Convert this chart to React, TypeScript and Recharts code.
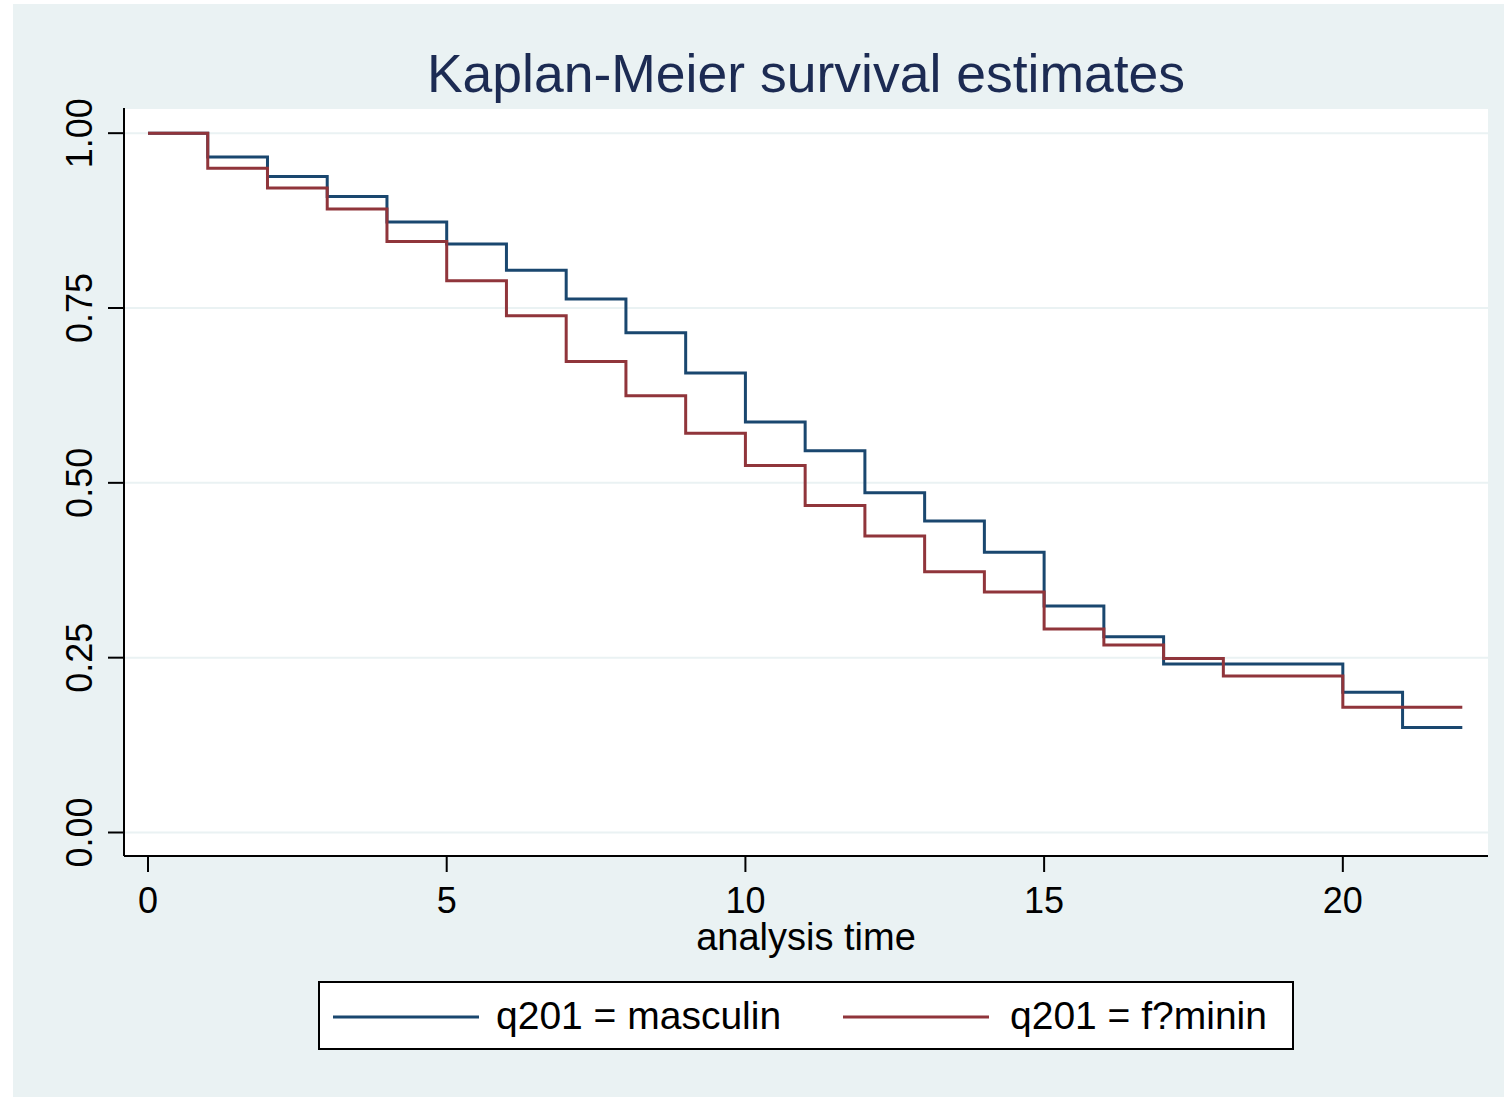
import { CartesianGrid, Legend, Line, LineChart, XAxis, YAxis } from "recharts";

const times = [0, 1, 2, 3, 4, 5, 6, 7, 8, 9, 10, 11, 12, 13, 14, 15, 16, 17, 18, 19, 20, 21, 22];
const masculin = [
  1, 0.966, 0.938, 0.9096, 0.873, 0.8415, 0.804, 0.763, 0.7146, 0.657, 0.587, 0.546,
  0.486, 0.4456, 0.4008, 0.324, 0.28, 0.241, 0.241, 0.241, 0.2006, 0.15, 0.15,
];
const feminin = [
  1, 0.95, 0.9216, 0.8916, 0.845, 0.789, 0.739, 0.6735, 0.6245, 0.571, 0.5248, 0.4675,
  0.424, 0.3727, 0.344, 0.291, 0.268, 0.2487, 0.2239, 0.2239, 0.179, 0.179, 0.179,
];
const xTicks = [0, 5, 10, 15, 20];
const yTicks = [0, 0.25, 0.5, 0.75, 1];
const seriesNames = ["q201 = masculin", "q201 = f?minin"];

const FONT = '"Liberation Sans", Arial, Helvetica, sans-serif';
const BLUE = "#1a476f";
const RED = "#90353b";
const BG = "#eaf2f3";

const data = times.map((t, i) => ({ t, m: masculin[i], f: feminin[i] }));

const YTick = (props: any) => {
  const { x, y, payload } = props;
  const bx = x - 14;
  return (
    <text
      x={bx}
      y={y}
      transform={`rotate(-90, ${bx}, ${y})`}
      textAnchor="middle"
      fontSize={36}
      fontFamily={FONT}
      fill="#000"
    >
      {Number(payload.value).toFixed(2)}
    </text>
  );
};

const LegendBox = () => (
  <div
    style={{
      position: "relative",
      width: 976,
      height: 69,
      boxSizing: "border-box",
      border: "2px solid #000",
      background: "#fff",
      fontFamily: FONT,
      fontSize: 39,
      color: "#000",
    }}
  >
    {[BLUE, RED].map((c, i) => (
      <div key={i}>
        <svg
          width={146}
          height={6}
          style={{ position: "absolute", left: (i === 0 ? 15 : 525) - 2, top: 31 }}
        >
          <line x1={0} y1={3} x2={146} y2={3} stroke={c} strokeWidth={3} />
        </svg>
        <span
          style={{
            position: "absolute",
            left: (i === 0 ? 178 : 692) - 2,
            top: 0,
            lineHeight: "65px",
            whiteSpace: "nowrap",
          }}
        >
          {seriesNames[i]}
        </span>
      </div>
    ))}
  </div>
);

export default function App() {
  return (
    <div style={{ position: "absolute", left: 0, top: 0, width: 1504, height: 1097, background: "#fff" }}>
      <div style={{ position: "absolute", left: 13, top: 4, width: 1491, height: 1093, background: BG }} />
      <svg width={1504} height={120} style={{ position: "absolute", left: 0, top: 0 }}>
        <text x={806} y={92} textAnchor="middle" fontSize={53.5} fontFamily={FONT} fill="#1c2b53">
          Kaplan-Meier survival estimates
        </text>
      </svg>
      <div style={{ position: "absolute", left: 0, top: 0 }}>
        <LineChart
          width={1504}
          height={1097}
          data={data}
          margin={{ top: 108, right: 16, bottom: 240, left: 123 }}
        >
          <CartesianGrid fill="#fff" vertical={false} stroke={BG} strokeWidth={2} />
          <XAxis
            dataKey="t"
            type="number"
            domain={[-0.4017, 22.43]}
            ticks={xTicks}
            allowDataOverflow
            height={1}
            tickSize={16}
            tickMargin={15}
            axisLine={{ stroke: "#000", strokeWidth: 2 }}
            tickLine={{ stroke: "#000", strokeWidth: 2 }}
            tick={{ fill: "#000", fontSize: 36, fontFamily: FONT }}
            label={{
              value: "analysis time",
              position: "bottom",
              offset: 66,
              fill: "#000",
              fontSize: 38,
              fontFamily: FONT,
            }}
          />
          <YAxis
            type="number"
            domain={[-0.0336, 1.036]}
            ticks={yTicks}
            allowDataOverflow
            width={1}
            tickSize={16}
            tickMargin={2}
            axisLine={{ stroke: "#000", strokeWidth: 2 }}
            tickLine={{ stroke: "#000", strokeWidth: 2 }}
            tick={<YTick />}
          />
          <Legend
            layout="horizontal"
            verticalAlign="middle"
            align="center"
            wrapperStyle={{ left: 318, top: 981, width: 976, height: 69 }}
            content={<LegendBox />}
          />
          <Line
            type="stepAfter"
            dataKey="m"
            stroke={BLUE}
            strokeWidth={3}
            dot={false}
            isAnimationActive={false}
          />
          <Line
            type="stepAfter"
            dataKey="f"
            stroke={RED}
            strokeWidth={3}
            dot={false}
            isAnimationActive={false}
          />
        </LineChart>
      </div>
    </div>
  );
}
